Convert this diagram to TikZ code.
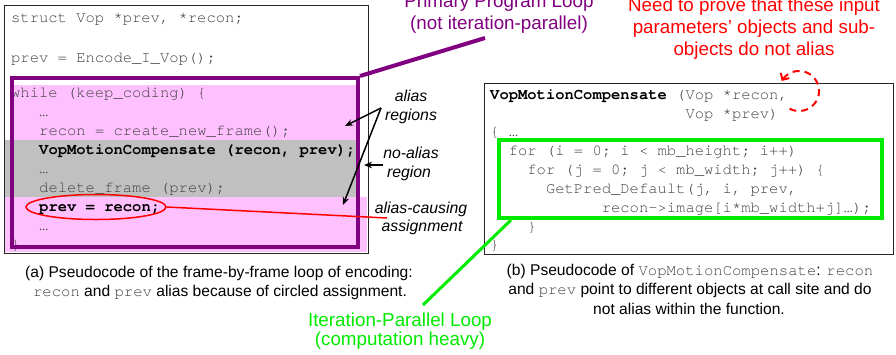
\documentclass[tikz,border=0pt]{standalone}
\usepackage{fontspec}
\setmainfont{Liberation Sans}
\setmonofont{texgyrecursor}[Extension=.otf, UprightFont=*-regular, BoldFont=*-bold, ItalicFont=*-italic, BoldItalicFont=*-bolditalic]
\usetikzlibrary{arrows.meta,shapes.geometric}

\definecolor{loopPurple}{RGB}{128,0,128}
\definecolor{aliasPink}{RGB}{255,192,255}
\definecolor{noAliasGray}{RGB}{192,192,192}
\definecolor{parGreen}{RGB}{0,235,0}
\definecolor{codeInk}{RGB}{64,64,64}
\definecolor{alertRed}{RGB}{255,0,0}

\newcommand\codefont{\fontsize{15.5}{19}\selectfont\ttfamily}
\newcommand\mono[1]{{\ttfamily\color{codeInk}#1}}

\tikzset{
  codeline/.style={anchor=base west, inner sep=0pt, font=\codefont, text=codeInk},
  boldline/.style={codeline, text=black, font=\codefont\bfseries},
  panel/.style={draw=black!85, line width=1pt, inner sep=0pt},
  note/.style={anchor=base, inner sep=0pt, font=\fontsize{18.8}{22}\selectfont},
  lbl/.style={anchor=base, inner sep=0pt, font=\fontsize{15.8}{19}\selectfont\itshape},
  captxt/.style={anchor=base, inner sep=0pt, font=\fontsize{15.6}{19}\selectfont},
  pointer/.style={line width=1.5pt, -{Stealth[length=8pt,width=6.5pt]}},
}

\begin{document}
\begin{tikzpicture}[x=1pt,y=-1pt]
\useasboundingbox (0,0) rectangle (896,354);

% ---------- left panel: frame-by-frame loop ----------
\fill[aliasPink] (12,85) rectangle (358,140);
\fill[noAliasGray] (5,140) rectangle (358,197);
\fill[aliasPink] (5,197) rectangle (367,252);
\node[panel, minimum width=364pt, minimum height=248pt] (leftpanel) at (186,129) {};

\node[codeline] (l1)  at (11,22)  {struct Vop *prev, *recon;};
\node[codeline] (l2)  at (11,62)  {prev = Encode\_I\_Vop();};
\node[codeline] (l3)  at (11,97)  {while (keep\_coding) \{};
\node[codeline] (l4)  at (39,116) {…};
\node[codeline] (l5)  at (39,135) {recon = create\_new\_frame();};
\node[boldline] (l6)  at (39,154) {VopMotionCompensate (recon, prev);};
\node[codeline] (l7)  at (39,173) {…};
\node[codeline] (l8)  at (39,192) {delete\_frame (prev);};
\node[boldline] (l9)  at (39,211) {prev = recon;};
\node[codeline] (l10) at (39,230) {…};
\node[codeline] (l11) at (11,249) {\}};

\node[draw=alertRed, line width=1.5pt, ellipse, minimum width=140pt, minimum height=25pt, inner sep=0pt] (circ) at (96,207) {};

\node[draw=loopPurple, line width=4pt, minimum width=346pt, minimum height=169pt, inner sep=0pt] (loopbox) at (185,162.5) {};

% ---------- right panel: VopMotionCompensate ----------
\node[panel, minimum width=409pt, minimum height=171pt] (fnpanel) at (688.5,168.5) {};

\node[codeline] (r1) at (490,99)  {\textcolor{black}{\bfseries VopMotionCompensate} (Vop *recon,};
\node[codeline] (r2) at (685.3,118) {Vop *prev)};
\node[codeline] (r3) at (490,136) {\{ …};
\node[codeline] (r4) at (508.6,155) {for (i = 0; i < mb\_height; i++)};
\node[codeline] (r5) at (527.2,174) {for (j = 0; j < mb\_width; j++) \{};
\node[codeline] (r6) at (545.8,193) {GetPred\_Default(j, i, prev,};
\node[codeline] (r7) at (601.6,212) {recon->image[i*mb\_width+j]…);};
\node[codeline] (r8) at (527.2,231) {\}};
\node[codeline] (r9) at (490,249) {\}};

\node[draw=parGreen, line width=4pt, minimum width=383pt, minimum height=78pt, inner sep=0pt] (parloop) at (690.5,179) {};

% ---------- annotations ----------
\node[note, text=loopPurple] (prim1) at (499,7)  {Primary Program Loop};
\node[note, text=loopPurple] (prim2) at (499,29) {(not iteration-parallel)};
\coordinate (primEnd) at (485,38);
\draw[loopPurple, line width=4pt] (loopbox.north east) -- (primEnd);

\node[note, text=alertRed] (need1) at (754,11) {Need to prove that these input};
\node[note, text=alertRed] (need2) at (754,33) {parameters’ objects and sub-};
\node[note, text=alertRed] (need3) at (754,55) {objects do not alias};
\draw[alertRed, line width=2pt, dash pattern=on 7pt off 5pt, -{Straight Barb[length=5pt,width=10pt]}]
  plot[domain=-118:150, samples=80, smooth] ({799+20*cos(\x)}, {91-20*sin(\x)});

\node[note, text=parGreen] (par1) at (400,326) {Iteration-Parallel Loop};
\node[note, text=parGreen] (par2) at (400,345) {(computation heavy)};
\coordinate (parEnd) at (423,305);
\draw[parGreen, line width=3pt] ([xshift=14pt]parloop.south west) -- (parEnd);

\node[lbl] (alias1) at (411,101) {alias};
\node[lbl] (alias2) at (411,120) {regions};
\node[lbl] (noalias1) at (411,158) {no-alias};
\node[lbl] (noalias2) at (409,177) {region};
\node[lbl] (cause1) at (421,213) {alias-causing};
\node[lbl] (cause2) at (422,231) {assignment};

\coordinate (aliasTail) at (381,108);
\coordinate (aliasTipA) at (345,126);
\coordinate (aliasTipB) at (343,205);
\coordinate (noAliasTail) at (383,165);
\coordinate (noAliasTip) at (364,165);
\coordinate (causeEnd) at (387,218);
\draw[pointer] (aliasTail) -- (aliasTipA);
\draw[pointer] (aliasTail) -- (aliasTipB);
\draw[pointer] (noAliasTail) -- (noAliasTip);
\draw[alertRed, line width=1.5pt] (circ.east) -- (causeEnd);

% ---------- captions ----------
\node[captxt] (capa1) at (219,277) {(a) Pseudocode of the frame-by-frame loop of encoding:};
\node[captxt] (capa2) at (220,296) {\mono{recon} and \mono{prev} alias because of circled assignment.};
\node[captxt] (capb1) at (690,275) {(b) Pseudocode of \mono{VopMotionCompensate}: \mono{recon}};
\node[captxt] (capb2) at (690,294) {and \mono{prev} point to different objects at call site and do};
\node[captxt] (capb3) at (689,314) {not alias within the function.};
\end{tikzpicture}
\end{document}
